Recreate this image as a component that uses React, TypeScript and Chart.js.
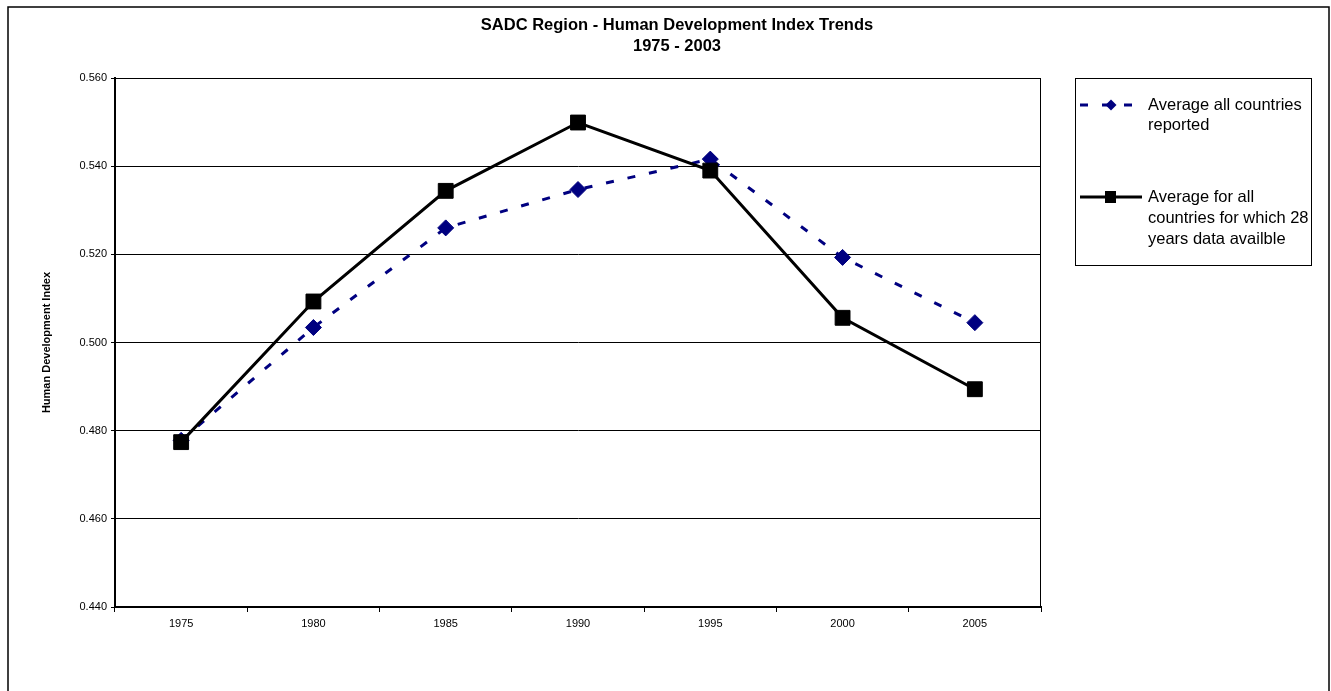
import React, { useEffect, useRef } from "react";
import { Chart, registerables } from "chart.js";

Chart.register(...registerables);

const years = ["1975", "1980", "1985", "1990", "1995", "2000", "2005"];
const avgAllReported = [0.4778, 0.5034, 0.526, 0.5347, 0.5416, 0.5193, 0.5045];
const avg28Years = [0.4774, 0.5093, 0.5344, 0.5499, 0.539, 0.5056, 0.4894];
const seriesNames = [
  "Average all countries reported",
  "Average for all countries for which 28 years data availble",
];
const legendLines = [
  ["Average all countries", "reported"],
  ["Average for all", "countries for which 28", "years data availble"],
];
const titleLines = ["SADC Region - Human Development Index Trends", "1975 - 2003"];
const yTitle = "Human Development Index";
const yMin = 0.44;
const yMax = 0.56;
const yStep = 0.02;

const FONT = '"Liberation Sans", Arial, Helvetica, sans-serif';

const decorPlugin = {
  id: "decor",
  beforeDraw(chart: any) {
    const ctx = chart.ctx;
    ctx.save();
    ctx.fillStyle = "#fff";
    ctx.fillRect(0, 0, chart.width, chart.height);
    ctx.restore();
  },
  afterDraw(chart: any) {
    const ctx = chart.ctx;
    ctx.save();
    // outer frame
    ctx.strokeStyle = "#000";
    ctx.lineWidth = 1.5;
    ctx.strokeRect(8, 7, 1321, 720);
    // title
    ctx.fillStyle = "#000";
    ctx.font = `bold 16.5px ${FONT}`;
    ctx.textAlign = "center";
    ctx.textBaseline = "middle";
    ctx.fillText(titleLines[0], 677, 25);
    ctx.fillText(titleLines[1], 677, 46);
    // plot border (top/right)
    const a = chart.chartArea;
    ctx.lineWidth = 1;
    ctx.beginPath();
    ctx.moveTo(a.left, a.top + 0.5);
    ctx.lineTo(a.right - 0.5, a.top + 0.5);
    ctx.lineTo(a.right - 0.5, a.bottom);
    ctx.stroke();
    // legend box
    const lx = 1075, ly = 78, lw = 236, lh = 187;
    ctx.strokeRect(lx + 0.5, ly + 0.5, lw, lh);
    const ds = chart.data.datasets;
    const rows = [
      { y: 105, lines: legendLines[0], tys: [105, 125], d: ds[0] },
      { y: 197, lines: legendLines[1], tys: [197, 218, 239], d: ds[1] },
    ];
    rows.forEach((r, i) => {
      ctx.save();
      ctx.strokeStyle = r.d.borderColor;
      ctx.lineWidth = r.d.borderWidth;
      ctx.setLineDash(r.d.borderDash || []);
      ctx.beginPath();
      ctx.moveTo(1080, r.y);
      ctx.lineTo(1142, r.y);
      ctx.stroke();
      ctx.setLineDash([]);
      ctx.fillStyle = r.d.backgroundColor;
      ctx.beginPath();
      if (i === 0) {
        const s = 5.5;
        ctx.moveTo(1111, r.y - s);
        ctx.lineTo(1111 + s, r.y);
        ctx.lineTo(1111, r.y + s);
        ctx.lineTo(1111 - s, r.y);
        ctx.closePath();
      } else {
        ctx.rect(1105, r.y - 6, 11, 12);
      }
      ctx.fill();
      ctx.restore();
      ctx.fillStyle = "#000";
      ctx.font = `16.5px ${FONT}`;
      ctx.textAlign = "left";
      ctx.textBaseline = "middle";
      r.lines.forEach((t, k) => ctx.fillText(t, 1148, r.tys[k]));
    });
    ctx.restore();
  },
};

export default function App() {
  const ref = useRef<HTMLCanvasElement | null>(null);
  useEffect(() => {
    if (!ref.current) return;
    const chart = new Chart(ref.current, {
      type: "line",
      data: {
        labels: years,
        datasets: [
          {
            label: seriesNames[0],
            data: avgAllReported,
            borderColor: "#000080",
            backgroundColor: "#000080",
            borderWidth: 3,
            borderDash: [8, 14],
            pointStyle: "rectRot",
            pointRadius: 8,
            pointBorderWidth: 1,
            pointBorderColor: "#000080",
            pointBackgroundColor: "#000080",
            tension: 0,
            order: 1,
          },
          {
            label: seriesNames[1],
            data: avg28Years,
            borderColor: "#000",
            backgroundColor: "#000",
            borderWidth: 3,
            pointStyle: "rect",
            pointRadius: 10.5,
            pointBorderWidth: 1,
            pointBorderColor: "#000",
            pointBackgroundColor: "#000",
            tension: 0,
            order: 0,
          },
        ],
      },
      options: {
        animation: false,
        responsive: false,
        events: [],
        layout: { padding: { top: 78, right: 290, bottom: 54, left: 0 } },
        plugins: {
          legend: { display: false },
          tooltip: { enabled: false },
          title: { display: false },
        },
        scales: {
          x: {
            type: "category",
            offset: true,
            grid: {
              offset: true,
              drawOnChartArea: false,
              drawTicks: true,
              tickLength: 5,
              color: "#000",
              lineWidth: 1,
            },
            border: { display: true, color: "#000", width: 2 },
            ticks: {
              color: "#000",
              font: { size: 11, family: FONT },
              padding: 5,
              maxRotation: 0,
              autoSkip: false,
            },
            afterFit: (s: any) => {
              s.height = 30;
            },
          },
          y: {
            min: yMin,
            max: yMax,
            grid: { color: "#000", lineWidth: 1, tickLength: 4, drawTicks: true },
            border: { display: true, color: "#000", width: 2 },
            ticks: {
              stepSize: yStep,
              color: "#000",
              font: { size: 11, family: FONT },
              padding: 4,
              callback: (v: any) => Number(v).toFixed(3),
            },
            title: {
              display: true,
              text: yTitle,
              color: "#000",
              font: { size: 11, weight: "bold", family: FONT },
              padding: { top: 40, bottom: 0 },
            },
            afterFit: (s: any) => {
              s.width = 115;
            },
          },
        },
      },
      plugins: [decorPlugin],
    });
    return () => chart.destroy();
  }, []);
  return (
    <div style={{ position: "absolute", left: 0, top: 0, width: 1331, height: 691, background: "#fff" }}>
      <canvas ref={ref} width={1331} height={691} style={{ width: 1331, height: 691, display: "block" }} />
    </div>
  );
}
